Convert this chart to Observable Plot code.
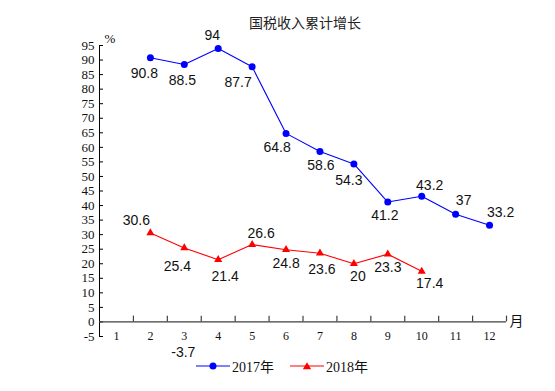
<!DOCTYPE html>
<html>
<head>
<meta charset="utf-8">
<script src="https://cdn.jsdelivr.net/npm/d3@7"></script>
<script src="https://cdn.jsdelivr.net/npm/@observablehq/plot@0.6"></script>
<style>
  body { margin: 0; background: #fff; }
  #wrap { position: relative; width: 555px; height: 391px; overflow: hidden; }
  #title { position: absolute; left: 0; width: 610px; top: 12px; text-align: center;
           font-family: "Noto Sans CJK SC", sans-serif; font-size: 14px; color: #222; line-height: 20px; }
  #legend { position: absolute; top: 356px; left: 196px; font-family: "Liberation Serif", "Noto Sans CJK SC", serif;
            font-size: 14px; color: #111; display: flex; align-items: center; }
  #legend .item { display: flex; align-items: center; margin-right: 16px; }
  #legend svg { margin-right: 2px; }
</style>
</head>
<body>
<div id="wrap">
  <div id="title">国税收入累计增长</div>
  <div id="chart"></div>
  <div id="legend">
    <div class="item"><svg width="34" height="18"><line x1="0" x2="34" y1="9" y2="9" stroke="#0000ff" stroke-width="1.2"/><circle cx="17" cy="9" r="3.5" fill="#0000ff"/></svg><span>2017年</span></div>
    <div class="item"><svg width="34" height="18"><line x1="0" x2="34" y1="9" y2="9" stroke="#ff0000" stroke-width="1.2"/><path d="M17,5.2 L21.2,12.2 L12.8,12.2 Z" fill="#ff0000"/></svg><span>2018年</span></div>
  </div>
</div>
<script>
const months = [1,2,3,4,5,6,7,8,9,10,11,12];
const yTicks = d3.range(-5, 100, 5);

const months2017 = [2,3,4,5,6,7,8,9,10,11,12];
const values2017 = [90.8, 88.5, 94, 87.7, 64.8, 58.6, 54.3, 41.2, 43.2, 37, 33.2];

const months2018 = [2,3,4,5,6,7,8,9,10];
const values2018 = [30.6, 25.4, 21.4, 26.6, 24.8, 23.6, 20, 23.3, 17.4];

const extraMonths = [3];
const extraValues = [-3.7];

// label offsets (pixels) for placement
const off2017 = [[-6,16],[-2,16],[-6,-13],[-14,16],[-9,14],[1,14],[-5,17],[-3,13],[8,-11],[8,-14],[11,-13]];
const off2018 = [[-14,-12],[-7,18],[7,17],[9,-11],[0,14],[2,16],[4,13],[0,13],[8,12]];

const s2017 = months2017.map((m, i) => ({month: m, value: values2017[i], dx: off2017[i][0], dy: off2017[i][1]}));
const s2018 = months2018.map((m, i) => ({month: m, value: values2018[i], dx: off2018[i][0], dy: off2018[i][1]}));
const extra = extraMonths.map((m, i) => ({month: m, value: extraValues[i]}));

const W = 555, H = 391, ML = 99, MR = 49, MT = 45, MB = 55;
const bw = (W - ML - MR) / months.length;

function labels(data) {
  return data.map(d => Plot.text([d], {
    x: "month", y: "value", text: d => String(d.value),
    dx: d.dx, dy: d.dy, fill: "#111", fontSize: 14,
    fontFamily: "Liberation Sans, Arial, sans-serif"
  }));
}

const chart = Plot.plot({
  width: W, height: H,
  marginLeft: ML, marginRight: MR, marginTop: MT, marginBottom: MB,
  x: {type: "band", domain: months, padding: 0, round: false, axis: null},
  y: {domain: [-5, 95], axis: null},
  style: {background: "transparent", overflow: "visible"},
  marks: [
    // y axis
    Plot.frame({anchor: "left", stroke: "#000"}),
    Plot.tickY(yTicks, {y: d => d, x: () => 1, insetRight: bw - 4, stroke: "#000"}),
    Plot.text(yTicks, {y: d => d, frameAnchor: "left", dx: -5, textAnchor: "end", text: d => String(d),
      fontSize: 13, fontFamily: "Liberation Serif, Times New Roman, serif", fill: "#111"}),
    Plot.text(["%"], {frameAnchor: "top-left", dx: 5, dy: -12, text: d => d,
      fontSize: 13, fontFamily: "Liberation Serif, serif", fill: "#111"}),
    // x axis
    Plot.ruleY([0], {stroke: "#404040", strokeWidth: 1.3}),
    Plot.ruleX(months, {x: d => d, y1: 0, y2: 2, dx: bw / 2, stroke: "#404040", strokeWidth: 1.2}),
    Plot.text(months, {x: d => d, y: -5, text: d => String(d),
      fontSize: 12, fontFamily: "Liberation Serif, Times New Roman, serif", fill: "#111"}),
    Plot.text(["月"], {frameAnchor: "right", y: () => 0, dx: 17, text: d => d,
      fontSize: 14, fontFamily: "Noto Sans CJK SC, sans-serif", fill: "#111"}),
    // series 2017
    Plot.line(s2017, {x: "month", y: "value", stroke: "#0000ff", strokeWidth: 1.1}),
    Plot.dot(s2017, {x: "month", y: "value", r: 3.5, fill: "#0000ff", symbol: "circle"}),
    // series 2018
    Plot.line(s2018, {x: "month", y: "value", stroke: "#ff0000", strokeWidth: 1.1}),
    Plot.dot(s2018, {x: "month", y: "value", r: 3, fill: "#ff0000", symbol: "triangle"}),
    ...labels(s2017),
    ...labels(s2018),
    Plot.text(extra, {x: "month", y: "value", text: d => String(d.value), dy: 19.5, dx: -1,
      fill: "#111", fontSize: 14, fontFamily: "Liberation Sans, Arial, sans-serif"})
  ]
});
document.getElementById("chart").appendChild(chart);
</script>
</body>
</html>
